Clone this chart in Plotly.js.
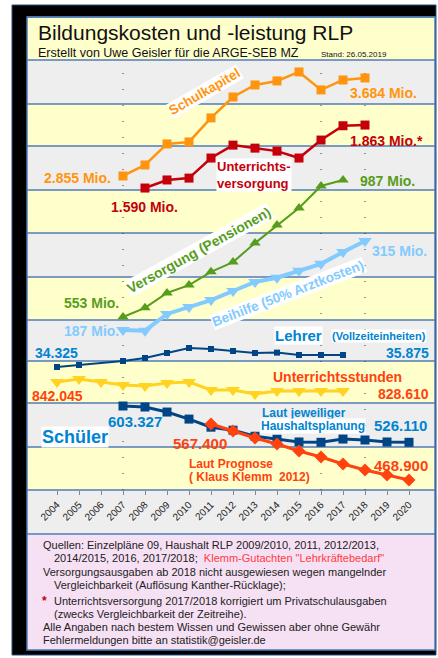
<!DOCTYPE html>
<html><head><meta charset="utf-8">
<script src="https://cdn.plot.ly/plotly-3.0.1.min.js"></script>
<style>html,body{margin:0;padding:0;background:#fff;}#chart{width:438px;height:658px;}</style>
</head><body><div id="chart"></div>
<script>
// ---- data ----
const years = [2004,2005,2006,2007,2008,2009,2010,2011,2012,2013,2014,2015,2016,2017,2018,2019,2020];
const yearLabels = years.map(String);
const schulkapitel = [null,null,null,2855,2948,3126,3143,3346,3523,3625,3659,3735,3583,3667,3684,null,null];
const unterrichtsversorgung = [null,null,null,null,1590,1625,1633,1720,1776,1763,1750,1720,1798,1860,1863,null,null];
const versorgung = [null,null,null,553,582,629,654,696,727,787,844,898,968,987,null,null,null];
const beihilfe = [null,null,null,187,186,210,220,230,243,256,262,272,282,299,315,null,null];
const lehrer = [34325,34583,null,35100,35488,36133,36778,36649,36391,36133,36180,35875,35875,35875,null,null,null];
const unterrichtsstunden = [842045,846524,842045,837566,836073,840552,842045,830101,830101,824129,828610,828610,828610,828610,null,null,null];
const schueler = [null,null,null,603327,601180,590457,575442,558282,551847,538977,532542,526800,526110,533000,531000,526800,526110];
const prognose = [null,null,null,null,null,null,null,567400,555087,542774,532220,519907,509353,497040,486486,477691,468900];

const W = 438, H = 658;
const X = p => p / W, Y = p => 1 - p / H;
const FONT = 'Liberation Sans, Arial, sans-serif';

const C = {
  orange:'#ff950e', red:'#c5000b', green:'#579d1c', lblue:'#83caff',
  dblue:'#004586', yellow:'#ffd320', ored:'#ff420e', blue:'#0084d1'
};

function tr(y, yaxis, color, symbol, msize, lw, connect) {
  return {x: years, y: y, yaxis: yaxis, type:'scatter', mode:'lines+markers',
    connectgaps: !!connect, hoverinfo:'skip',
    line:{color:color, width:lw}, marker:{color:color, symbol:symbol, size:msize}};
}
const traces = [
  tr(schulkapitel,'y',C.orange,'square',9,2.5),
  tr(unterrichtsversorgung,'y2',C.red,'square',9,2.5),
  tr(versorgung,'y3',C.green,'triangle-up',10,2),
  tr(beihilfe,'y4',C.lblue,'triangle-down',12,4),
  tr(lehrer,'y5',C.dblue,'square',6,2,true),
  tr(unterrichtsstunden,'y6',C.yellow,'triangle-down',12,3),
  tr(schueler,'y7',C.dblue,'square',9,3),
  tr(prognose,'y8',C.ored,'diamond',10,3)
];

const dom = [Y(490), Y(60)];
function yax(range, over) {
  const a = {domain: dom, range: range, visible:false, fixedrange:true, showgrid:false, zeroline:false};
  if (over) { a.overlaying = 'y'; }
  return a;
}

// ---- shapes (frame, bands) ----
const shapes = [];
function rect(x0,y0,x1,y1,fill,lc,lw){
  shapes.push({type:'rect',xref:'paper',yref:'paper',x0:X(x0),x1:X(x1),y0:Y(y0),y1:Y(y1),
    fillcolor:fill,line:{color:lc||'rgba(0,0,0,0)',width:lw||0},layer:'below'});
}
rect(12,5,436,655,'#000000','#2b4f81',1);
const bandEdges = [17,60,104,146,190,233,277,320,361,403,447,490,534];
const YEL = '#ffffcc', GRY = '#eeeeee';
for (let i=0;i<bandEdges.length-1;i++){
  rect(27,bandEdges[i],435,bandEdges[i+1], i%2===0?YEL:GRY);
}
rect(27,534,435,650,'#f6e0f4');
bandEdges.forEach(e=>{
  shapes.push({type:'line',xref:'paper',yref:'paper',x0:X(27),x1:X(435),y0:Y(e),y1:Y(e),
    line:{color:'#4f7db5',width:1.5},layer:'below'});
});
rect(27,17,435,650,'rgba(0,0,0,0)','#4f7db5',1.5);
[2007,2016,2018].forEach(yr=>{
  shapes.push({type:'line',xref:'x',yref:'paper',x0:yr,x1:yr,y0:Y(490),y1:Y(60),
    line:{color:'#333',width:1,dash:'1px,15px'},layer:'below'});
});

// ---- annotations ----
const anns = [];
function A(text,x,y,size,color,o){
  o = o||{};
  anns.push(Object.assign({text:text,xref:'paper',yref:'paper',x:X(x),y:Y(y),
    xanchor:o.xa||'left',yanchor:'middle',showarrow:false,align:o.align||'left',
    font:{family:FONT,size:size,color:color}},
    o.bg?{bgcolor:o.bg,borderpad:o.pad!==undefined?o.pad:1}:{},
    o.angle!==undefined?{textangle:o.angle}:{}));
}
A('Bildungskosten und -leistung RLP',36,32,21,'#111');
A('Erstellt von Uwe Geisler für die ARGE-SEB MZ',36,53,12.5,'#111');
A('Stand: 26.05.2019',319,54,8,'#111');

A('<b>Schulkapitel</b>',205,92,13.5,C.orange,{xa:'center',angle:-30,bg:'#ffffff',pad:0});
A('<b>2.855 Mio.</b>',42,178,14,C.orange);
A('<b>3.684 Mio.</b>',348,93,14,C.orange);
A('<b>Unterrichts-<br>versorgung</b>',216,175,13,C.red,{bg:'#ffffff',pad:0});
A('<b>1.863 Mio.*</b>',348,141,14,C.red);
A('<b>1.590 Mio.</b>',109,207,14,C.red);
A('<b>987 Mio.</b>',358,181,14,C.green);
A('<b>Versorgung (Pensionen)</b>',199,250,14,C.green,{xa:'center',angle:-29,bg:'#ffffff',pad:0});
A('<b>553 Mio.</b>',62,303,14,C.green);
A('<b>315 Mio.</b>',370,251,14,C.lblue);
A('<b>Beihilfe (50% Arztkosten)</b>',288,293,13.5,C.lblue,{xa:'center',angle:-21,bg:'#ffffff',pad:0});
A('<b>187 Mio.</b>',62,331,14,C.lblue);
A('<b>Lehrer</b>',274,335,15,C.blue,{bg:'#ffffff',pad:0});
A('<b>(Vollzeiteinheiten)</b>',331,336,11,C.blue,{bg:'#ffffff',pad:0});
A('<b>34.325</b>',33,353,14,C.blue);
A('<b>35.875</b>',384,353,14,C.blue);
A('<b>Unterrichtsstunden</b>',271,377,14,C.ored);
A('<b>842.045</b>',30,396,14,C.ored);
A('<b>828.610</b>',376,394,14,C.ored);
A('<b>603.327</b>',106,421,15,C.blue);
A('<b>Laut jeweiliger</b>',260,413,12,C.blue);
A('<b>Haushaltsplanung</b>',260,426,12,C.blue,{bg:'#ffffff',pad:0});
A('<b>526.110</b>',372,426,15,C.blue);
A('<b>Schüler</b>',41,437,18,C.blue,{bg:'#ffffff',pad:0});
A('<b>567.400</b>',171,443,15,C.ored);
A('<b>Laut Prognose</b>',187,464,12,C.ored);
A('<b>( Klaus Klemm  2012)</b>',187,477,12,C.ored);
A('<b>468.900</b>',372,465,15,C.ored);

const FT = '#222';
A('Quellen: Einzelpläne 09, Haushalt RLP 2009/2010, 2011, 2012/2013,',41,545,11,FT);
A('2014/2015, 2016, 2017/2018;  <span style="color:#ff3c3c">Klemm-Gutachten "Lehrkräftebedarf"</span>',52,558,11,FT);
A('Versorgungsausgaben ab 2018 nicht ausgewiesen wegen mangelnder',41,572,11,FT);
A('Vergleichbarkeit (Auflösung Kanther-Rücklage);',52,585,11,FT);
A('<b>*</b>',40,601,12,C.red);
A('Unterrichtsversorgung 2017/2018 korrigiert um Privatschulausgaben',52,601,11,FT);
A('(zwecks Vergleichbarkeit der Zeitreihe).',52,614,11,FT);
A('Alle Angaben nach bestem Wissen und Gewissen aber ohne Gewähr',41,627,11,FT);
A('Fehlermeldungen bitte an statistik@geisler.de',41,640,11,FT);

const layout = {
  width:W, height:H, margin:{l:0,r:0,t:0,b:0,pad:0},
  paper_bgcolor:'#ffffff', plot_bgcolor:'rgba(0,0,0,0)', showlegend:false,
  font:{family:FONT},
  xaxis:{domain:[0,1], range:[2004-57/22, 2020+29/22], tickmode:'array', tickvals:years, ticktext:yearLabels,
    tickangle:-45, ticks:'outside', ticklen:4, tickwidth:1, tickcolor:'#888', showgrid:false, zeroline:false,
    showline:false, automargin:false, fixedrange:true, anchor:'y',
    tickfont:{family:FONT,size:10,color:'#222'}},
  yaxis: yax([199,3836]),
  yaxis2: yax([281,2145],true),
  yaxis3: yax([5,1367],true),
  yaxis4: yax([-43,575],true),
  yaxis5: yax([18458,73928],true),
  yaxis6: yax([680801,1322791],true),
  yaxis7: yax([424659,1339269],true),
  yaxis8: yax([451306,1207676],true),
  shapes: shapes, annotations: anns
};
Plotly.newPlot('chart', traces, layout, {staticPlot:true, displayModeBar:false});
</script></body></html>
